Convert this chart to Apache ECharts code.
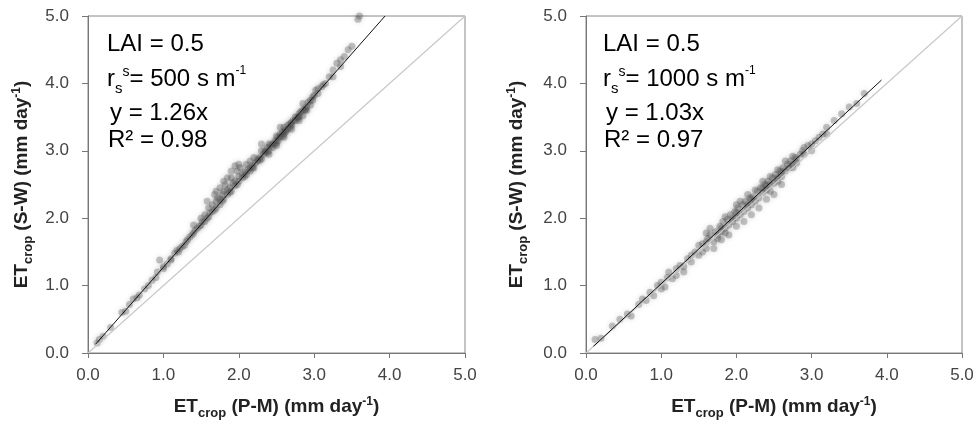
<!DOCTYPE html>
<html><head><meta charset="utf-8">
<script src="https://cdn.jsdelivr.net/npm/echarts@6/dist/echarts.min.js"></script>
<style>html,body{margin:0;padding:0;background:#fff}#c{width:978px;height:425px}</style>
</head><body><div id="c"></div>
<script>
// Tick values (both axes, both panels)
const ticks = [0.0, 1.0, 2.0, 3.0, 4.0, 5.0];

// Left panel (LAI = 0.5, rs = 500 s m-1): [ET P-M, ET S-W]
const pointsLeft = [
[0.12,0.15],[0.15,0.2],[0.2,0.25],[0.3,0.38],[0.45,0.6],[0.55,0.72],[0.6,0.8],[0.68,0.86],[0.75,0.95],[0.85,1.08],
[0.92,1.2],[0.95,1.38],[1.0,1.28],[1.05,1.32],[1.1,1.4],[1.15,1.48],[1.2,1.5],[1.25,1.58],[1.3,1.65],[1.35,1.72],
[1.4,1.78],[1.4,1.9],[1.45,1.85],[1.5,1.9],[1.5,2.0],[1.55,1.95],[1.55,2.05],[1.6,2.02],[1.6,2.15],[1.65,2.1],
[1.65,2.2],[1.7,2.15],[1.7,2.25],[1.72,2.3],[1.75,2.2],[1.78,2.35],[1.8,2.28],[1.8,2.4],[1.82,2.5],[1.85,2.35],
[1.88,2.45],[1.9,2.4],[1.9,2.6],[1.92,2.52],[1.95,2.48],[1.98,2.7],[2.0,2.55],[2.0,2.62],[2.02,2.75],[2.05,2.6],
[2.08,2.68],[2.1,2.65],[2.1,2.8],[2.12,2.72],[2.15,2.7],[2.18,2.78],[2.2,2.75],[2.2,2.9],[2.22,2.82],[2.25,2.85],
[2.28,2.9],[2.3,2.88],[2.3,3.0],[2.33,2.95],[2.35,2.98],[2.38,3.05],[2.4,3.0],[2.4,3.1],[2.42,3.08],[2.45,3.1],
[2.48,3.15],[2.5,3.12],[2.5,3.22],[2.52,3.2],[2.55,3.2],[2.58,3.28],[2.6,3.25],[2.6,3.35],[2.62,3.3],[2.65,3.32],
[2.68,3.4],[2.7,3.38],[2.72,3.45],[2.75,3.45],[2.78,3.5],[2.8,3.5],[2.82,3.58],[2.85,3.6],[2.88,3.62],[2.9,3.65],
[2.92,3.72],[2.95,3.75],[2.98,3.8],[3.0,3.82],[3.02,3.9],[3.05,3.85],[3.1,3.95],[3.15,4.0],[3.2,4.1],[3.25,4.2],
[3.3,4.3],[3.35,4.35],[3.4,4.4],[3.45,4.5],[3.5,4.55],[3.58,4.95],[3.6,5.0],
[2.45,3.05],[2.55,3.25],[2.65,3.38],[2.7,3.42],[2.75,3.5],[2.8,3.55],[2.62,3.28],[2.52,3.15],[2.35,3.0],[2.25,2.88],
[2.15,2.75],[2.05,2.65],[1.95,2.55],[1.85,2.42],[1.75,2.28],[1.62,2.08],[1.52,1.95],[1.42,1.82],[1.32,1.68],[1.22,1.55],
[1.75,2.45],[1.68,2.35],[1.58,2.25],[1.85,2.6],[1.95,2.78],[2.15,2.85],[2.85,3.52],[2.95,3.68],[3.05,3.92],[3.12,3.98],
[0.5,0.62],[0.65,0.82],[0.8,1.0],[0.9,1.12],[1.0,1.25],[1.1,1.38],[1.18,1.52],[1.28,1.6],[1.38,1.75],[1.48,1.88],
[1.58,2.0],[1.68,2.12],[1.78,2.25],[1.88,2.38],[1.98,2.5],[2.08,2.62],[2.18,2.74],[2.28,2.86],[2.38,2.98],[2.48,3.1],
[2.58,3.22],[2.68,3.35],[2.78,3.48],[2.88,3.6],[2.98,3.75],[2.7,3.32],[2.8,3.45],[2.9,3.6],[2.6,3.2],[2.5,3.08],
[2.4,2.95],[1.7,2.4],[1.8,2.55],[1.9,2.7],[2.0,2.8],[2.3,3.1],[2.55,3.35],[2.85,3.7],[3.25,4.1],[3.35,4.25]
];
const fitLeft = [[0.1, 0.13], [3.94, 5.0]];
const oneToOneLeft = [[0.0, 0.0], [5.0, 5.0]];

// Right panel (LAI = 0.5, rs = 1000 s m-1)
const pointsRight = [
[0.12,0.2],[0.2,0.22],[0.35,0.4],[0.45,0.5],[0.55,0.58],[0.6,0.55],[0.7,0.72],[0.75,0.8],[0.8,0.78],[0.85,0.9],
[0.9,0.85],[0.95,1.0],[1.0,1.05],[1.05,0.98],[1.08,1.12],[1.1,1.2],[1.15,1.1],[1.2,1.25],[1.25,1.3],[1.3,1.28],
[1.35,1.4],[1.4,1.35],[1.45,1.5],[1.5,1.45],[1.5,1.6],[1.55,1.62],[1.6,1.55],[1.62,1.7],[1.65,1.75],[1.7,1.65],
[1.72,1.8],[1.75,1.75],[1.78,1.88],[1.8,1.8],[1.82,1.95],[1.85,1.85],[1.88,1.98],[1.9,1.9],[1.92,2.05],[1.95,1.95],
[1.98,2.1],[2.0,2.0],[2.02,2.15],[2.05,2.05],[2.08,2.2],[2.1,2.1],[2.12,2.25],[2.15,2.15],[2.18,2.3],[2.2,2.2],
[2.22,2.32],[2.25,2.25],[2.28,2.4],[2.3,2.3],[2.32,2.45],[2.35,2.38],[2.38,2.5],[2.4,2.42],[2.42,2.55],[2.45,2.5],
[2.48,2.6],[2.5,2.52],[2.52,2.65],[2.55,2.6],[2.58,2.7],[2.6,2.62],[2.62,2.75],[2.65,2.7],[2.68,2.8],[2.7,2.75],
[2.72,2.85],[2.75,2.8],[2.78,2.9],[2.8,2.88],[2.85,2.95],[2.88,3.0],[2.9,2.95],[2.95,3.08],[3.0,3.1],[3.05,3.15],
[3.1,3.2],[3.15,3.25],[3.2,3.35],[3.3,3.45],[3.4,3.55],[3.5,3.65],[3.6,3.7],[3.7,3.85],
[1.9,1.75],[2.1,1.95],[2.3,2.15],[2.5,2.35],[2.2,2.05],[1.7,1.55],[2.6,2.5],[2.4,2.28],[2.0,1.88],[1.8,1.68],
[2.15,2.35],[2.35,2.55],[2.55,2.72],[2.0,2.2],[1.6,1.78],[2.45,2.62],[2.65,2.85],[2.25,2.42],[1.85,2.02],[2.75,2.92],
[1.0,0.95],[1.2,1.15],[1.4,1.45],[1.6,1.65],[1.8,1.85],[2.0,2.08],[2.2,2.28],[2.4,2.48],[2.6,2.68],[2.8,2.82],
[1.55,1.5],[1.75,1.7],[1.95,2.0],[2.15,2.2],[2.35,2.45],[2.55,2.55],[2.75,2.75],[2.9,3.05],[3.0,3.0],[3.2,3.25],
[1.3,1.2],[1.65,1.85],[1.85,1.78],[2.05,2.25],[2.45,2.4]
];
const fitRight = [[0.1, 0.1], [3.93, 4.05]];
const oneToOneRight = [[0.0, 0.0], [5.0, 5.0]];

const FONT = 'Liberation Sans, Arial, sans-serif';
const TXT = '#222';

const nameRich = {
  a: { fontFamily: FONT, fontSize: 19, fontWeight: 'bold', color: TXT, lineHeight: 24 },
  sub: { fontFamily: FONT, fontSize: 13, fontWeight: 'bold', color: TXT, verticalAlign: 'top', lineHeight: 10, padding: [12,0,0,0] },
  sup: { fontFamily: FONT, fontSize: 12, fontWeight: 'bold', color: TXT, verticalAlign: 'top', lineHeight: 10, padding: [1,0,0,0] }
};

function mkX(gi) {
  return {
    type: 'value', gridIndex: gi, min: ticks[0], max: ticks[ticks.length-1], interval: 1,
    name: '{a|ET}{sub|crop}{a| (P-M) (mm day}{sup|-1}{a|)}',
    nameLocation: 'middle', nameGap: 42,
    nameTextStyle: { rich: nameRich },
    axisLine: { show: true, onZero: false, lineStyle: { color: '#777', width: 1 } },
    axisTick: { show: true, length: 5, lineStyle: { color: '#777' } },
    axisLabel: { fontFamily: FONT, fontSize: 17, color: '#444', margin: 14, formatter: v => v.toFixed(1) },
    splitLine: { show: false }
  };
}
function mkY(gi, gap) {
  return {
    type: 'value', gridIndex: gi, min: ticks[0], max: ticks[ticks.length-1], interval: 1,
    name: '{a|ET}{sub|crop}{a| (S-W) (mm day}{sup|-1}{a|)}',
    nameLocation: 'middle', nameGap: gap, nameRotate: 90,
    nameTextStyle: { rich: nameRich },
    axisLine: { show: true, onZero: false, lineStyle: { color: '#777', width: 1 } },
    axisTick: { show: true, length: 6, lineStyle: { color: '#777' } },
    axisLabel: { fontFamily: FONT, fontSize: 17, color: '#444', margin: 19, formatter: v => v.toFixed(1) },
    splitLine: { show: false }
  };
}

const scatterStyle = { color: 'rgba(70,70,70,0.36)', shadowBlur: 5, shadowColor: 'rgba(70,70,70,0.6)' };

const annRich = {
  a: { fontFamily: FONT, fontSize: 24, color: TXT, lineHeight: 28 },
  sub: { fontFamily: FONT, fontSize: 15, color: TXT, verticalAlign: 'top', lineHeight: 10, padding: [16,0,0,0] },
  sup: { fontFamily: FONT, fontSize: 14, color: TXT, verticalAlign: 'top', lineHeight: 10, padding: [0,0,0,0] },
  sup2: { fontFamily: FONT, fontSize: 12, color: TXT, verticalAlign: 'top', lineHeight: 10, padding: [0,0,0,0] }
};
function annot(x, rs, slope, r2) {
  return [
    { type: 'text', left: x, top: 32, style: { text: '{a|LAI = 0.5}', rich: annRich } },
    { type: 'text', left: x, top: 65, style: { text: '{a|r}{sub|s}{sup|s}{a|= ' + rs + ' s m}{sup2|-1}', rich: annRich } },
    { type: 'text', left: x + 3, top: 101, style: { text: '{a|y = ' + slope + 'x}', rich: annRich } },
    { type: 'text', left: x + 1, top: 128, style: { text: '{a|R² = ' + r2 + '}', rich: annRich } }
  ];
}

const chart = echarts.init(document.getElementById('c'), null, { renderer: 'canvas' });
chart.setOption({
  backgroundColor: '#fff',
  animation: false,
  grid: [
    { left: 88, top: 16, width: 377, height: 337, show: true, borderColor: '#888', borderWidth: 1, backgroundColor: 'transparent' },
    { left: 586, top: 16, width: 376, height: 337, show: true, borderColor: '#888', borderWidth: 1, backgroundColor: 'transparent' }
  ],
  xAxis: [mkX(0), mkX(1)],
  yAxis: [mkY(0, 54), mkY(1, 57)],
  graphic: [].concat(annot(107, 500, '1.26', '0.98'), annot(603, 1000, '1.03', '0.97')),
  series: [
    { type: 'line', xAxisIndex: 0, yAxisIndex: 0, data: oneToOneLeft, symbol: 'none', lineStyle: { color: '#c8c8c8', width: 1.2 } },
    { type: 'scatter', xAxisIndex: 0, yAxisIndex: 0, data: pointsLeft, symbolSize: 7, itemStyle: scatterStyle },
    { type: 'line', xAxisIndex: 0, yAxisIndex: 0, data: fitLeft, symbol: 'none', lineStyle: { color: '#111', width: 1 } },
    { type: 'line', xAxisIndex: 1, yAxisIndex: 1, data: oneToOneRight, symbol: 'none', lineStyle: { color: '#c8c8c8', width: 1.2 } },
    { type: 'scatter', xAxisIndex: 1, yAxisIndex: 1, data: pointsRight, symbolSize: 7, itemStyle: scatterStyle },
    { type: 'line', xAxisIndex: 1, yAxisIndex: 1, data: fitRight, symbol: 'none', lineStyle: { color: '#111', width: 1 } }
  ]
});
</script>
</body></html>
